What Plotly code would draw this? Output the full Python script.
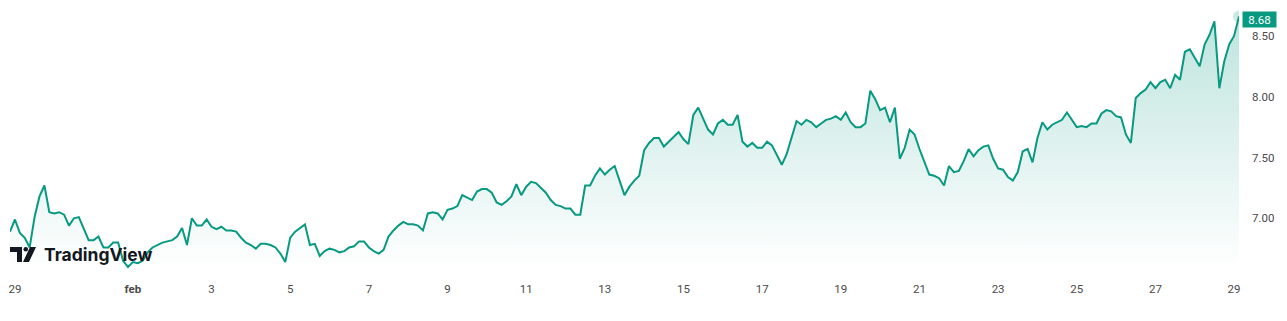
import pandas as pd
import plotly.graph_objects as go

# ---- data (3-hourly closes) ----
start_time = "2024-01-28 21:00"
step = "3h"
values = [
    6.89, 6.99, 6.88, 6.84, 6.76, 7.01, 7.18, 7.27, 7.05, 7.04,
    7.05, 7.03, 6.94, 7.00, 7.01, 6.92, 6.82, 6.82, 6.85, 6.76,
    6.76, 6.80, 6.80, 6.65, 6.60, 6.64, 6.63, 6.65, 6.72, 6.76,
    6.78, 6.80, 6.81, 6.82, 6.85, 6.92, 6.78, 7.00, 6.94, 6.94,
    6.99, 6.93, 6.91, 6.93, 6.90, 6.90, 6.89, 6.84, 6.80, 6.78,
    6.75, 6.79, 6.79, 6.78, 6.76, 6.71, 6.64, 6.84, 6.89, 6.92,
    6.95, 6.78, 6.79, 6.69, 6.73, 6.75, 6.74, 6.72, 6.73, 6.76,
    6.77, 6.81, 6.81, 6.76, 6.73, 6.71, 6.74, 6.85, 6.90, 6.94,
    6.97, 6.95, 6.95, 6.94, 6.90, 7.04, 7.05, 7.04, 6.99, 7.07,
    7.08, 7.10, 7.19, 7.17, 7.15, 7.22, 7.24, 7.24, 7.21, 7.13,
    7.11, 7.14, 7.18, 7.28, 7.19, 7.26, 7.30, 7.29, 7.25, 7.21,
    7.15, 7.11, 7.10, 7.08, 7.08, 7.03, 7.03, 7.27, 7.27, 7.35,
    7.41, 7.36, 7.40, 7.43, 7.31, 7.19, 7.26, 7.31, 7.35, 7.56,
    7.62, 7.66, 7.66, 7.59, 7.63, 7.67, 7.71, 7.65, 7.61, 7.85,
    7.91, 7.82, 7.73, 7.69, 7.78, 7.81, 7.77, 7.77, 7.85, 7.63,
    7.59, 7.62, 7.58, 7.58, 7.63, 7.60, 7.52, 7.44, 7.53, 7.67,
    7.80, 7.77, 7.81, 7.79, 7.75, 7.78, 7.81, 7.82, 7.84, 7.81,
    7.87, 7.79, 7.75, 7.75, 7.78, 8.05, 7.98, 7.89, 7.91, 7.79,
    7.91, 7.49, 7.58, 7.73, 7.69, 7.57, 7.47, 7.36, 7.35, 7.33,
    7.27, 7.43, 7.38, 7.39, 7.47, 7.57, 7.51, 7.56, 7.59, 7.60,
    7.49, 7.41, 7.40, 7.34, 7.31, 7.38, 7.55, 7.57, 7.46, 7.66,
    7.79, 7.73, 7.77, 7.79, 7.81, 7.87, 7.81, 7.75, 7.76, 7.75,
    7.78, 7.78, 7.86, 7.89, 7.88, 7.84, 7.83, 7.69, 7.62, 7.99,
    8.03, 8.06, 8.12, 8.07, 8.12, 8.14, 8.07, 8.18, 8.14, 8.37,
    8.39, 8.32, 8.25, 8.43, 8.51, 8.62, 8.07, 8.29, 8.43, 8.50,
    8.66,
]
last_price_label = "8.68"

x_tick_dates = ["2024-01-29", "2024-02-01", "2024-02-03", "2024-02-05", "2024-02-07",
                "2024-02-09", "2024-02-11", "2024-02-13", "2024-02-15", "2024-02-17",
                "2024-02-19", "2024-02-21", "2024-02-23", "2024-02-25", "2024-02-27",
                "2024-02-29"]
x_tick_labels = ["29", "<b>feb</b>", "3", "5", "7", "9", "11", "13", "15", "17",
                 "19", "21", "23", "25", "27", "29"]
y_tick_values = [7.00, 7.50, 8.00, 8.50]

y_min, y_max = 6.5745, 8.796

LINE = "#089981"
times = pd.date_range(start_time, periods=len(values), freq=step)

fig = go.Figure()
fig.add_trace(go.Scatter(
    x=times, y=values, mode="lines",
    line=dict(color=LINE, width=2),
    fill="tozeroy",
    fillgradient=dict(
        type="vertical",
        start=y_min, stop=y_max,
        colorscale=[[0, "rgba(8,153,129,0.0)"], [1, "rgba(8,153,129,0.28)"]],
    ),
    hoverinfo="skip", showlegend=False,
))
fig.add_trace(go.Scatter(
    x=[times[-1]], y=[values[-1]], mode="markers",
    marker=dict(size=12, color="rgba(8,153,129,0.22)"),
    hoverinfo="skip", showlegend=False,
))

fig.update_layout(
    width=1287, height=321,
    margin=dict(l=10, r=48, t=0, b=51),
    paper_bgcolor="white", plot_bgcolor="white",
    font=dict(family="Roboto, sans-serif", size=11, color="#4a4a4a"),
    xaxis=dict(
        range=[times[0], times[-1]],
        tickvals=pd.to_datetime(x_tick_dates), ticktext=x_tick_labels,
        showgrid=False, zeroline=False, showline=False,
        ticks="", ticklabelstandoff=10,
        tickfont=dict(size=11.5, color="#4a4a4a"),
    ),
    yaxis=dict(
        side="right", range=[y_min, y_max],
        tickvals=y_tick_values, tickformat=".2f",
        showgrid=False, zeroline=False, showline=False,
        ticks="", ticklabelstandoff=12,
        tickfont=dict(size=11.5, color="#4a4a4a"),
    ),
)

# last price label
fig.add_annotation(
    xref="paper", x=1, xanchor="left", xshift=3,
    yref="y", y=values[-1], yanchor="middle", yshift=-3,
    text=last_price_label, showarrow=False,
    bgcolor=LINE, font=dict(color="white", size=11.5, family="Roboto, sans-serif"),
    width=33, height=15, borderpad=0,
)

# TradingView logo (decoration)
LOGO = "#131722"
common = dict(xref="paper", yref="paper", xsizemode="pixel", ysizemode="pixel",
              xanchor=0, yanchor=0, line=dict(width=0), fillcolor=LOGO, layer="above")
fig.add_shape(type="rect", x0=0, x1=12, y0=18, y1=23, **common)
fig.add_shape(type="rect", x0=7, x1=12, y0=8, y1=23, **common)
fig.add_shape(type="circle", x0=13.5, x1=18, y0=18.5, y1=23, **common)
fig.add_shape(type="path", path="M 20 23 L 26 23 L 19 8 L 13 8 Z", **common)
fig.add_annotation(
    xref="paper", x=32 / 1229, xanchor="left",
    yref="paper", y=15.5 / 270, yanchor="middle",
    text="<b>TradingView</b>", showarrow=False,
    font=dict(family="Inter, sans-serif", size=17.5, color=LOGO),
)

fig.write_html("out.html")
